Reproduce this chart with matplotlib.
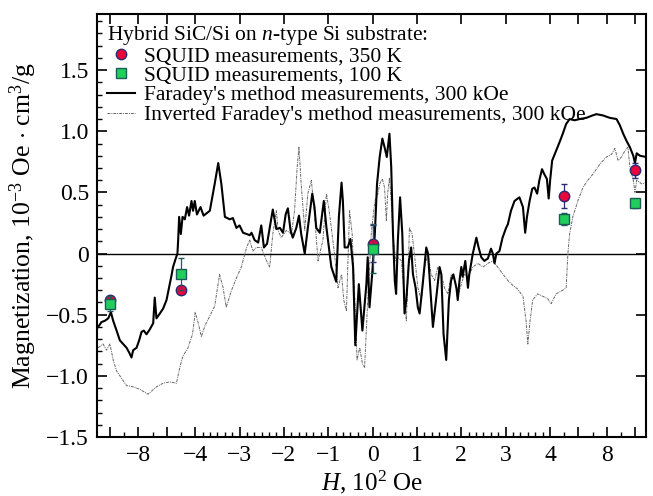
import numpy as np
import matplotlib
matplotlib.use('Agg')
import matplotlib.pyplot as plt
from matplotlib.lines import Line2D

plt.rcParams['font.family'] = ['Liberation Serif', 'DejaVu Serif']
plt.rcParams['mathtext.fontset'] = 'custom'
plt.rcParams['mathtext.rm'] = 'Liberation Serif'
plt.rcParams['mathtext.it'] = 'Liberation Serif:italic'

# Faradey's method, 300 kOe (H in 10^2 Oe, M in 10^-3 Oe cm3/g)
far_h = [-10.84, -10.60, -10.37, -10.13, -9.94, -9.78, -9.54, -9.31, -9.08, -8.84,
         -8.65, -8.49, -8.37, -8.13, -7.95, -7.78, -7.62, -7.43, -7.20, -6.96,
         -6.85, -6.73, -6.49, -6.26, -6.02, -5.79, -5.67, -5.56, -5.37, -5.25,
         -5.20, -5.13, -5.01, -4.89, -4.73, -4.57, -4.43, -4.26, -4.15, -4.03,
         -3.96, -3.88, -3.81, -3.67, -3.56, -3.48, -3.41, -3.33, -3.22, -3.15,
         -3.07, -3.00, -2.92, -2.84, -2.77, -2.73, -2.66, -2.58, -2.51, -2.45,
         -2.38, -2.32, -2.25, -2.17, -2.09, -2.02, -1.96, -1.91, -1.85, -1.80,
         -1.72, -1.66, -1.61, -1.53, -1.46, -1.36, -1.31, -1.27, -1.19, -1.10,
         -1.04, -0.93, -0.82, -0.76, -0.70, -0.67, -0.63, -0.56, -0.50, -0.44,
         -0.39, -0.31, -0.23, -0.14, -0.11, -0.07, -0.01, 0.05, 0.10, 0.16,
         0.22, 0.27, 0.32, 0.38, 0.42, 0.46, 0.50, 0.53, 0.57, 0.62,
         0.67, 0.72, 0.76, 0.82, 0.87, 0.91, 0.97, 1.02, 1.06, 1.13,
         1.21, 1.25, 1.30, 1.36, 1.43, 1.51, 1.55, 1.60, 1.66, 1.72,
         1.77, 1.82, 1.89, 1.92, 1.96, 2.00, 2.03, 2.09, 2.15, 2.18,
         2.26, 2.34, 2.39, 2.45, 2.52, 2.60, 2.67, 2.71, 2.75, 2.79,
         2.86, 2.93, 3.01, 3.05, 3.12, 3.20, 3.31, 3.39, 3.44, 3.48,
         3.54, 3.60, 3.65, 3.71, 3.76, 3.82, 3.87, 3.93, 3.97, 4.01,
         4.15, 4.43, 4.67, 4.90, 5.14, 5.38, 5.73, 6.09, 6.56, 7.01,
         7.27, 7.72, 8.21, 8.69, 8.92, 9.16, 9.40, 9.63, 9.87, 9.99,
         10.11, 10.34, 10.77]
far_m = [-0.60, -0.56, -0.55, -0.53, -0.48, -0.55, -0.63, -0.71, -0.74, -0.77,
         -0.81, -0.85, -0.79, -0.77, -0.71, -0.64, -0.63, -0.66, -0.62, -0.57,
         -0.36, -0.53, -0.49, -0.45, -0.38, -0.25, -0.18, -0.11, -0.04, 0.00,
         0.11, 0.30, 0.16, 0.30, 0.28, 0.38, 0.31, 0.43, 0.35, 0.43,
         0.32, 0.38, 0.31, 0.35, 0.57, 0.74, 0.57, 0.30, 0.28, 0.29,
         0.21, 0.23, 0.17, 0.16, 0.15, 0.17, 0.11, 0.09, 0.23, 0.05,
         0.08, 0.21, 0.36, 0.20, 0.21, 0.17, 0.32, 0.37, 0.19, 0.13,
         0.21, 0.31, 0.16, 0.00, 0.21, 0.49, 0.38, 0.21, 0.17, 0.43,
         0.21, -0.11, -0.23, 0.30, 0.58, 0.43, 0.05, 0.05, 0.12, -0.11,
         -0.75, -0.25, -0.63, -0.25, -0.03, -0.44, -0.17, 0.16, 0.57, 0.79,
         0.94, 0.87, 0.79, 0.98, 0.71, 0.16, -0.22, -0.33, 0.11, 0.46,
         0.16, -0.49, -0.38, -0.06, 0.05, -0.17, -0.28, -0.44, -0.49, -0.25,
         0.05, 0.00, -0.28, -0.60, -0.38, -0.11, -0.17, -0.66, -0.87, -0.38,
         -0.22, -0.17, -0.28, -0.38, -0.22, -0.11, -0.19, -0.06, -0.28, -0.17,
         0.00, 0.13, 0.05, -0.03, -0.06, -0.04, 0.04, 0.00, -0.08, 0.00,
         0.02, 0.13, 0.21, 0.24, 0.35, 0.43, 0.46, 0.38, 0.17, 0.30,
         0.43, 0.53, 0.54, 0.49, 0.60, 0.69, 0.65, 0.61, 0.45, 0.60,
         0.76, 0.84, 0.91, 0.98, 1.06, 1.10, 1.09, 1.10, 1.11, 1.13,
         1.14, 1.13, 1.11, 1.10, 1.05, 0.98, 0.92, 0.87, 0.80, 0.74,
         0.82, 0.80, 0.79]

# inverted Faradey's method
inv_h = [-10.84, -10.49, -10.25, -10.01, -9.78, -9.54, -9.19, -8.84, -8.37, -7.90,
         -7.32, -6.73, -6.26, -5.79, -5.32, -5.08, -4.87, -4.50, -4.19, -4.00,
         -3.93, -3.86, -3.78, -3.67, -3.56, -3.45, -3.37, -3.30, -3.18, -3.07,
         -2.96, -2.84, -2.77, -2.70, -2.62, -2.51, -2.39, -2.32, -2.25, -2.17,
         -2.13, -2.06, -1.94, -1.83, -1.76, -1.70, -1.66, -1.61, -1.53, -1.46,
         -1.38, -1.31, -1.23, -1.19, -1.12, -1.04, -0.98, -0.93, -0.86, -0.78,
         -0.70, -0.65, -0.59, -0.52, -0.46, -0.41, -0.35, -0.29, -0.23, -0.18,
         -0.11, -0.03, 0.05, 0.12, 0.16, 0.22, 0.27, 0.31, 0.34, 0.38,
         0.42, 0.46, 0.52, 0.57, 0.65, 0.72, 0.76, 0.80, 0.83, 0.89,
         0.95, 1.02, 1.10, 1.17, 1.25, 1.32, 1.40, 1.47, 1.55, 1.62,
         1.70, 1.77, 1.85, 1.92, 2.00, 2.07, 2.15, 2.26, 2.37, 2.49,
         2.60, 2.71, 2.82, 2.94, 3.05, 3.16, 3.27, 3.39, 3.46, 3.50,
         3.55, 3.61, 3.72, 3.84, 3.95, 4.08, 4.43, 4.90, 5.14, 5.26,
         5.38, 5.61, 5.96, 6.32, 6.67, 7.03, 7.50, 7.98, 8.33, 8.57,
         8.80, 9.04, 9.28, 9.49, 9.63, 9.87, 9.99, 10.11, 10.46, 10.77]
inv_m = [-0.77, -0.74, -0.79, -0.74, -0.87, -0.96, -1.02, -1.08, -1.09, -1.11,
         -1.15, -1.09, -1.06, -1.05, -1.06, -0.93, -0.84, -0.77, -0.66, -0.48,
         -0.57, -0.68, -0.59, -0.51, -0.43, -0.17, -0.28, -0.44, -0.30, -0.20,
         -0.11, 0.05, 0.11, 0.02, 0.05, 0.05, -0.06, -0.11, 0.16, 0.35,
         0.19, 0.13, 0.19, 0.16, 0.35, 0.71, 0.87, 0.57, 0.19, 0.49,
         0.60, 0.32, -0.06, 0.00, 0.11, 0.49, 0.35, 0.21, 0.00, -0.28,
         -0.17, -0.38, -0.47, 0.35, 0.16, -0.28, -0.87, -0.77, -0.90, -0.93,
         -0.38, 0.16, 0.43, 0.49, 0.57, 0.61, 0.54, 0.27, 0.49, 0.62,
         0.43, 0.16, -0.06, -0.03, -0.06, -0.38, -0.55, -0.17, 0.21, 0.16,
         -0.03, -0.28, -0.38, -0.11, 0.00, -0.17, -0.22, -0.11, -0.17, -0.28,
         -0.33, -0.17, -0.22, -0.36, -0.25, -0.17, -0.19, -0.11, -0.08, -0.11,
         -0.08, -0.06, -0.11, -0.17, -0.22, -0.26, -0.29, -0.35, -0.55, -0.74,
         -0.55, -0.38, -0.33, -0.35, -0.37, -0.41, -0.33, -0.30, -0.28, 0.00,
         0.16, 0.30, 0.43, 0.54, 0.60, 0.65, 0.73, 0.79, 0.81, 0.86,
         0.76, 0.79, 0.84, 0.87, 0.71, 0.60, 0.50, 0.60, 0.57, 0.58]

# SQUID points
squid_h = [-10, -5, 0, 5, 10]
squid350_m = [-0.38, -0.30, 0.08, 0.47, 0.68]
squid350_err = [0.03, 0.03, 0.15, 0.10, 0.06]
squid100_m = [-0.41, -0.17, 0.04, 0.28, 0.41]
squid100_err = [0.06, 0.13, 0.20, 0.05, 0.04]

k = 14.2 / 44.4  # outer part of the H axis is compressed


def fwd(h):
    h = np.asarray(h, dtype=float)
    return np.where(np.abs(h) <= 4, h, np.sign(h) * (4 + (np.abs(h) - 4) * k))


def inv(u):
    u = np.asarray(u, dtype=float)
    return np.where(np.abs(u) <= 4, u, np.sign(u) * (4 + (np.abs(u) - 4) / k))


fig = plt.figure(figsize=(6.53, 4.96), dpi=100)
ax = fig.add_axes([0.149, 0.119, 0.841, 0.853])
ax.set_xscale('function', functions=(fwd, inv))

ax.plot(inv_h, inv_m, color='#666666', lw=0.7, ls=(0, (3, 1, 1, 1)),
        label="Inverted Faradey's method measurements, 300 kOe", zorder=2)
ax.plot(far_h, far_m, color='black', lw=1.5,
        label="Faradey's method measurements, 300 kOe", zorder=3)
ax.axhline(0, color='black', lw=1.0, zorder=1)

ax.errorbar(squid_h, squid350_m, yerr=squid350_err, fmt='o', ms=7.5,
            mfc='#e8063c', mec='#2a2a70', mew=1.0, ecolor='#2a2a70',
            elinewidth=0.9, capsize=2.5, zorder=5)
ax.errorbar(squid_h, squid100_m, yerr=squid100_err, fmt='s', ms=6.5,
            mfc='#1fcf5a', mec='#1d5a5a', mew=1.0, ecolor='#1d5a5a',
            elinewidth=0.9, capsize=2.5, zorder=6)

ax.set_xlim(-10.9, 10.8)
ax.set_ylim(-1.5, 1.96)

major_x = [-10, -8, -6, -4, -3, -2, -1, 0, 1, 2, 3, 4, 6, 8, 10]
major_lbl = ['', '\u22128', '', '\u22124', '\u22123', '\u22122', '\u22121',
             '0', '1', '2', '3', '4', '', '8', '']
minor_x = [-9, -7, -5, 5, 7, 9] + [i / 6 for i in range(-24, 25) if i % 6 != 0]
ax.set_xticks(major_x)
ax.set_xticklabels(major_lbl)
ax.set_xticks(minor_x, minor=True)

ax.set_yticks([-1.5, -1.0, -0.5, 0, 0.5, 1.0, 1.5])
ax.set_yticklabels(['\u22121.5', '\u22121.0', '\u22120.5', '0', '0.5', '1.0', '1.5'])
ax.set_yticks(np.arange(-1.5, 1.95, 0.1), minor=True)

ax.tick_params(which='major', direction='in', length=7, width=1.2,
               top=True, right=True, labelsize=17, pad=6)
ax.tick_params(which='minor', direction='in', length=3.5, width=1.0,
               top=False, right=False)
for s in ax.spines.values():
    s.set_linewidth(1.5)

ax.set_xlabel('$H$, 10$^2$ Oe', fontsize=18, labelpad=2)
ax.set_ylabel('Magnetization, 10$^{-3}$ Oe $\\cdot$ cm$^3$/g', fontsize=18.5, labelpad=5)

handles = [
    Line2D([], [], ls='none', marker='o', ms=7.5, mfc='#e8063c', mec='#2a2a70'),
    Line2D([], [], ls='none', marker='s', ms=6.5, mfc='#1fcf5a', mec='#1d5a5a'),
    Line2D([], [], color='black', lw=1.5),
    Line2D([], [], color='#666666', lw=0.7, ls=(0, (3, 1, 1, 1))),
]
labels = ['SQUID measurements, 350 K', 'SQUID measurements, 100 K',
          "Faradey's method measurements, 300 kOe",
          "Inverted Faradey's method measurements, 300 kOe"]
leg = ax.legend(handles, labels, loc='upper left', bbox_to_anchor=(0.0, 1.0),
                title='Hybrid SiC/Si on $n$-type Si substrate:', title_fontsize=15.5,
                fontsize=15.5, frameon=False, handlelength=1.3, handletextpad=0.4,
                labelspacing=-0.02, borderaxespad=0.15, borderpad=0.3,
                alignment='left')

fig.savefig('out.png', dpi=100)
